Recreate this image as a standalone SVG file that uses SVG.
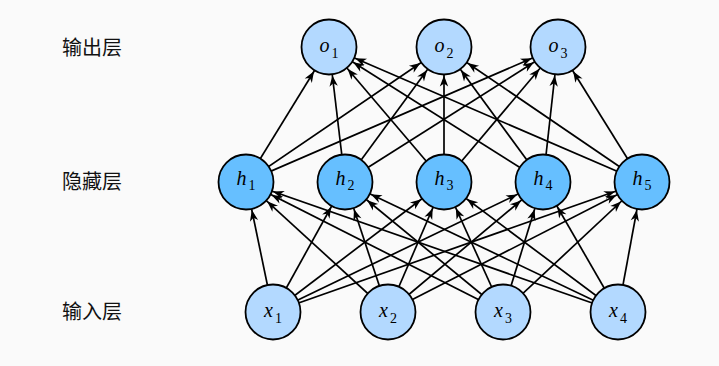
<svg xmlns="http://www.w3.org/2000/svg" width="719" height="366" viewBox="0 0 719 366">
<defs>
<marker id="ah" markerUnits="userSpaceOnUse" markerWidth="1" markerHeight="1" refX="0" refY="0" orient="auto" overflow="visible">
<path d="M-28.6,0 L-39.6,-4.2 L-36.4,0 L-39.6,4.2 Z" fill="#000"/>
</marker>
</defs>
<style>
.e{stroke:#000;stroke-width:1.7;fill:none;marker-end:url(#ah)}
.n circle{stroke:#000;stroke-width:1.8}
.io{fill:#b3d9ff}
.hd{fill:#66bfff}
.lbl{font-family:"Liberation Serif",serif;font-size:20px;font-style:italic;fill:#000}
.sub{font-style:normal;font-size:14px}
.lay{font-family:"Noto Sans CJK SC","Noto Sans",sans-serif;font-size:20px;fill:#111}
</style>
<rect width="719" height="366" fill="#fafafa"/>
<g id="layer-labels">
<text class="lay" x="62" y="55">输出层</text>
<text class="lay" x="62" y="189">隐藏层</text>
<text class="lay" x="62" y="319">输入层</text>
</g>
<g id="connectors">
<line class="e" x1="246" y1="182" x2="329" y2="47"/>
<line class="e" x1="246" y1="182" x2="444" y2="47"/>
<line class="e" x1="246" y1="182" x2="558" y2="47"/>
<line class="e" x1="345" y1="182" x2="329" y2="47"/>
<line class="e" x1="345" y1="182" x2="444" y2="47"/>
<line class="e" x1="345" y1="182" x2="558" y2="47"/>
<line class="e" x1="444" y1="182" x2="329" y2="47"/>
<line class="e" x1="444" y1="182" x2="444" y2="47"/>
<line class="e" x1="444" y1="182" x2="558" y2="47"/>
<line class="e" x1="543" y1="182" x2="329" y2="47"/>
<line class="e" x1="543" y1="182" x2="444" y2="47"/>
<line class="e" x1="543" y1="182" x2="558" y2="47"/>
<line class="e" x1="642" y1="182" x2="329" y2="47"/>
<line class="e" x1="642" y1="182" x2="444" y2="47"/>
<line class="e" x1="642" y1="182" x2="558" y2="47"/>
<line class="e" x1="273" y1="312" x2="246" y2="182"/>
<line class="e" x1="273" y1="312" x2="345" y2="182"/>
<line class="e" x1="273" y1="312" x2="444" y2="182"/>
<line class="e" x1="273" y1="312" x2="543" y2="182"/>
<line class="e" x1="273" y1="312" x2="642" y2="182"/>
<line class="e" x1="388" y1="312" x2="246" y2="182"/>
<line class="e" x1="388" y1="312" x2="345" y2="182"/>
<line class="e" x1="388" y1="312" x2="444" y2="182"/>
<line class="e" x1="388" y1="312" x2="543" y2="182"/>
<line class="e" x1="388" y1="312" x2="642" y2="182"/>
<line class="e" x1="503" y1="312" x2="246" y2="182"/>
<line class="e" x1="503" y1="312" x2="345" y2="182"/>
<line class="e" x1="503" y1="312" x2="444" y2="182"/>
<line class="e" x1="503" y1="312" x2="543" y2="182"/>
<line class="e" x1="503" y1="312" x2="642" y2="182"/>
<line class="e" x1="618" y1="312" x2="246" y2="182"/>
<line class="e" x1="618" y1="312" x2="345" y2="182"/>
<line class="e" x1="618" y1="312" x2="444" y2="182"/>
<line class="e" x1="618" y1="312" x2="543" y2="182"/>
<line class="e" x1="618" y1="312" x2="642" y2="182"/>
</g>
<g id="o1" class="n"><circle class="io" cx="329" cy="47" r="27.5"/><text class="lbl" x="329" y="52" text-anchor="middle">o<tspan class="sub" dx="2" dy="6">1</tspan></text></g>
<g id="o2" class="n"><circle class="io" cx="444" cy="47" r="27.5"/><text class="lbl" x="444" y="52" text-anchor="middle">o<tspan class="sub" dx="2" dy="6">2</tspan></text></g>
<g id="o3" class="n"><circle class="io" cx="558" cy="47" r="27.5"/><text class="lbl" x="558" y="52" text-anchor="middle">o<tspan class="sub" dx="2" dy="6">3</tspan></text></g>
<g id="h1" class="n"><circle class="hd" cx="246" cy="182" r="27.5"/><text class="lbl" x="246" y="185" text-anchor="middle">h<tspan class="sub" dx="2" dy="5">1</tspan></text></g>
<g id="h2" class="n"><circle class="hd" cx="345" cy="182" r="27.5"/><text class="lbl" x="345" y="185" text-anchor="middle">h<tspan class="sub" dx="2" dy="5">2</tspan></text></g>
<g id="h3" class="n"><circle class="hd" cx="444" cy="182" r="27.5"/><text class="lbl" x="444" y="185" text-anchor="middle">h<tspan class="sub" dx="2" dy="5">3</tspan></text></g>
<g id="h4" class="n"><circle class="hd" cx="543" cy="182" r="27.5"/><text class="lbl" x="543" y="185" text-anchor="middle">h<tspan class="sub" dx="2" dy="5">4</tspan></text></g>
<g id="h5" class="n"><circle class="hd" cx="642" cy="182" r="27.5"/><text class="lbl" x="642" y="185" text-anchor="middle">h<tspan class="sub" dx="2" dy="5">5</tspan></text></g>
<g id="x1" class="n"><circle class="io" cx="273" cy="312" r="27.5"/><text class="lbl" x="273" y="317" text-anchor="middle">x<tspan class="sub" dx="2" dy="6">1</tspan></text></g>
<g id="x2" class="n"><circle class="io" cx="388" cy="312" r="27.5"/><text class="lbl" x="388" y="317" text-anchor="middle">x<tspan class="sub" dx="2" dy="6">2</tspan></text></g>
<g id="x3" class="n"><circle class="io" cx="503" cy="312" r="27.5"/><text class="lbl" x="503" y="317" text-anchor="middle">x<tspan class="sub" dx="2" dy="6">3</tspan></text></g>
<g id="x4" class="n"><circle class="io" cx="618" cy="312" r="27.5"/><text class="lbl" x="618" y="317" text-anchor="middle">x<tspan class="sub" dx="2" dy="6">4</tspan></text></g>
</svg>
